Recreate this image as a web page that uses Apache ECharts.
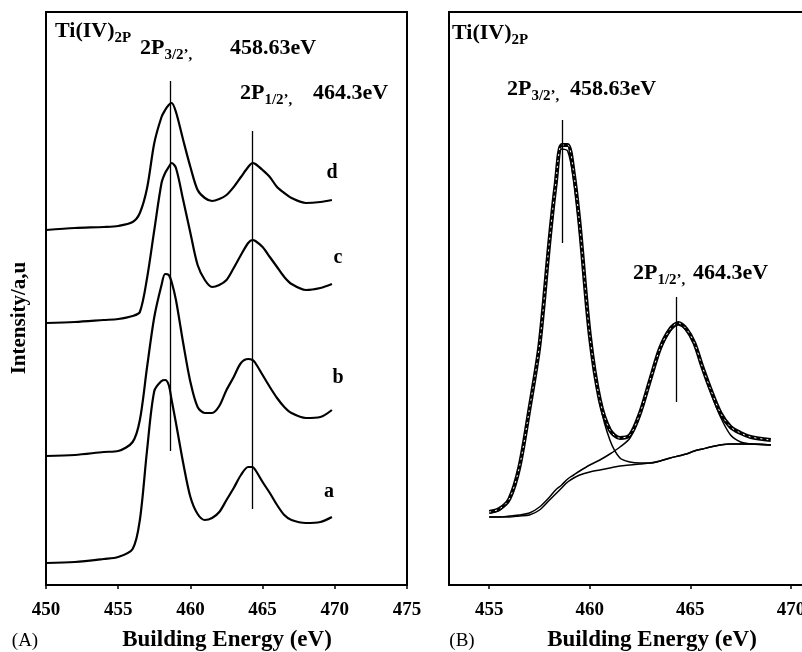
<!DOCTYPE html>
<html>
<head>
<meta charset="utf-8">
<script src="https://cdn.jsdelivr.net/npm/echarts@6/dist/echarts.min.js"></script>
<style>
  html, body { margin: 0; padding: 0; background: #fff; }
  #chart { width: 802px; height: 652px; }
</style>
</head>
<body>
<div id="chart"></div>
<script>
// panel A: four Ti 2p spectra (a-d), intensity in arbitrary units (stacked)
const energyA = [450, 452, 454, 455, 456, 456.5, 457, 457.5, 458, 458.25, 458.5, 458.7, 459, 459.5, 460, 460.5, 461, 461.5, 462, 462.5, 463, 463.5, 464, 464.3, 464.5, 465, 465.5, 466, 466.5, 467, 468, 469, 469.8]
const curveA_a = [22, 23, 26, 28, 36, 65, 135, 194, 204, 205, 200, 185, 162, 122, 88, 71, 65, 67, 73, 85, 97, 110, 118, 118, 115, 103, 92, 80, 70, 65, 62, 63, 68]
const curveA_b = [129, 130, 133, 134, 143, 165, 218, 268, 300, 311, 310, 303, 285, 242, 203, 178, 172, 172, 179, 195, 208, 222, 226, 225, 222, 210, 198, 187, 178, 172, 167, 168, 175]
const curveA_c = [262, 263, 265, 266, 269, 273, 307, 355, 402, 412, 418, 422, 417, 385, 352, 320, 305, 298, 300, 305, 317, 330, 342, 345, 344, 338, 328, 318, 308, 301, 295, 297, 301]
const curveA_d = [355, 357, 358, 359, 363, 372, 397, 442, 468, 475, 480, 482, 473, 445, 418, 395, 387, 384, 386, 390, 398, 408, 418, 422, 421, 415, 408, 398, 392, 387, 382, 383, 385]
const curveNamesA = ['a', 'b', 'c', 'd']
// peak marker lines: [energy, low, high]
const peakLinesA = [[458.63, 134, 504], [464.3, 76, 454]]
const ticksA = [450, 455, 460, 465, 470, 475]

// panel B: curve fit of one spectrum
const energyB = [455, 455.5, 456, 456.5, 457, 457.5, 458, 458.3, 458.6, 458.9, 459.2, 459.5, 460, 460.5, 461, 461.5, 462, 462.5, 463, 463.5, 464, 464.4, 464.8, 465.2, 465.6, 466, 466.5, 467, 467.5, 468, 469]
const measuredB = [73, 76, 86, 118, 176, 240, 345, 400, 440, 440, 412, 360, 250, 185, 155, 147, 150, 172, 205, 237, 256, 262, 256, 242, 218, 196, 172, 158, 152, 148, 145]
const peak32B = [72, 75, 85, 116, 174, 236, 340, 395, 436, 434, 405, 352, 248, 182, 145, 127, 123, 122, 122, 124, 127, 129, 131, 134, 136, 138, 140, 141, 141, 141, 140]
const peak12B = [68, 68, 69, 70, 72, 78, 88, 95, 100, 106, 110, 114, 120, 125, 131, 138, 147, 170, 203, 235, 254, 260, 255, 240, 216, 193, 168, 150, 143, 141, 140]
const backgroundB = [68, 68, 68, 69, 70, 75, 85, 91, 97, 103, 107, 110, 113, 115, 117, 119, 120, 121, 122, 124, 127, 129, 131, 134, 136, 138, 140, 141, 141, 141, 140]
const peakLinesB = [[458.63, 342, 465], [464.3, 183, 288]]
const ticksB = [455, 460, 465, 470]

const serif = '"Liberation Serif", "Times New Roman", serif'

const chart = echarts.init(document.getElementById('chart'))

const pairs = (xs, ys) => xs.map((x, i) => [x, ys[i]])

const markLines = (list) => ({
  symbol: 'none',
  silent: true,
  label: { show: false },
  lineStyle: { color: '#000', width: 1.3, type: 'solid' },
  data: list.map(p => [{ coord: [p[0], p[1]] }, { coord: [p[0], p[2]] }])
})

// rich text with subscripts
const richStyle = {
  m: { fontSize: 22, fontWeight: 'bold', fontFamily: serif, color: '#000', lineHeight: 30, verticalAlign: 'middle' },
  s: { fontSize: 15, fontWeight: 'bold', fontFamily: serif, color: '#000', lineHeight: 30, verticalAlign: 'bottom' }
}
const label = (x, y, text) => ({
  type: 'text',
  left: x,
  top: y,
  style: { text: text, rich: richStyle, fill: '#000' }
})
const plain = (x, y, text, size, weight) => ({
  type: 'text',
  x: x,
  y: y,
  style: {
    text: text,
    fontSize: size,
    fontWeight: weight,
    fontFamily: serif,
    fill: '#000',
    align: 'center',
    verticalAlign: 'middle'
  }
})

const xAxisBase = {
  type: 'value',
  axisLine: { show: true, onZero: false, lineStyle: { color: '#000', width: 2 } },
  axisTick: { show: true, inside: false, length: 4, lineStyle: { color: '#000', width: 1.5 } },
  axisLabel: { color: '#000', fontSize: 19, fontWeight: 'bold', fontFamily: serif, margin: 16 },
  splitLine: { show: false }
}
const yAxisBase = {
  type: 'value',
  min: 0,
  max: 573,
  axisLine: { show: true, lineStyle: { color: '#000', width: 2 } },
  axisTick: { show: false },
  axisLabel: { show: false },
  splitLine: { show: false }
}

const seriesA = [curveA_a, curveA_b, curveA_c, curveA_d].map((vals, i) => ({
  name: curveNamesA[i],
  type: 'line',
  xAxisIndex: 0,
  yAxisIndex: 0,
  data: pairs(energyA, vals),
  smooth: 0.3,
  showSymbol: false,
  lineStyle: { color: '#000', width: 2.2 },
  markLine: i === 0 ? markLines(peakLinesA) : undefined,
  z: 3
}))

const lineB = (name, vals, width, extra) => Object.assign({
  name: name,
  type: 'line',
  xAxisIndex: 1,
  yAxisIndex: 1,
  data: pairs(energyB, vals),
  smooth: 0.3,
  showSymbol: false,
  lineStyle: { color: '#000', width: width }
}, extra || {})

const seriesB = [
  lineB('background', backgroundB, 1.5),
  lineB('2P3/2', peak32B, 1.5),
  lineB('2P1/2', peak12B, 1.5),
  lineB('measured', measuredB, 4, { markLine: markLines(peakLinesB) }),
  lineB('fit', measuredB, 1, { lineStyle: { color: '#fff', width: 1, type: [2, 4] }, z: 4 })
]

chart.setOption({
  backgroundColor: '#fff',
  animation: false,
  grid: [
    { left: 46, top: 12, width: 361, height: 573, outerBoundsMode: 'none', containLabel: false, show: true, borderColor: '#000', borderWidth: 2, backgroundColor: 'transparent' },
    { left: 449, top: 12, width: 362, height: 573, outerBoundsMode: 'none', containLabel: false, show: true, borderColor: '#000', borderWidth: 2, backgroundColor: 'transparent' }
  ],
  xAxis: [
    Object.assign({}, xAxisBase, { gridIndex: 0, min: 450, max: 475, interval: 5 }),
    Object.assign({}, xAxisBase, {
      gridIndex: 1, min: 453, max: 471,
      axisTick: Object.assign({}, xAxisBase.axisTick, { customValues: ticksB }),
      axisLabel: Object.assign({}, xAxisBase.axisLabel, { customValues: ticksB })
    })
  ],
  yAxis: [
    Object.assign({}, yAxisBase, { gridIndex: 0 }),
    Object.assign({}, yAxisBase, { gridIndex: 1 })
  ],
  series: seriesA.concat(seriesB),
  graphic: [
    // panel A texts
    label(55, 20, '{m|Ti(IV)}{s|2P}'),
    label(140, 37, '{m|2P}{s|3/2’,}'),
    label(230, 37, '{m|458.63eV}'),
    label(240, 82, '{m|2P}{s|1/2’,}'),
    label(313, 82, '{m|464.3eV}'),
    plain(332, 173, 'd', 20, 'bold'),
    plain(338, 258, 'c', 20, 'bold'),
    plain(338, 378, 'b', 20, 'bold'),
    plain(329, 492, 'a', 20, 'bold'),
    Object.assign(plain(20, 318, 'Intensity/a,u', 21, 'bold'), { rotation: Math.PI / 2 }),
    plain(25, 641, '(A)', 19, 'normal'),
    plain(227, 640, 'Building Energy (eV)', 23, 'bold'),
    // panel B texts
    label(452, 22, '{m|Ti(IV)}{s|2P}'),
    label(507, 78, '{m|2P}{s|3/2’,}'),
    label(570, 78, '{m|458.63eV}'),
    label(633, 262, '{m|2P}{s|1/2’,}'),
    label(693, 262, '{m|464.3eV}'),
    plain(462, 641, '(B)', 19, 'normal'),
    plain(652, 640, 'Building Energy (eV)', 23, 'bold')
  ]
})
</script>
</body>
</html>
